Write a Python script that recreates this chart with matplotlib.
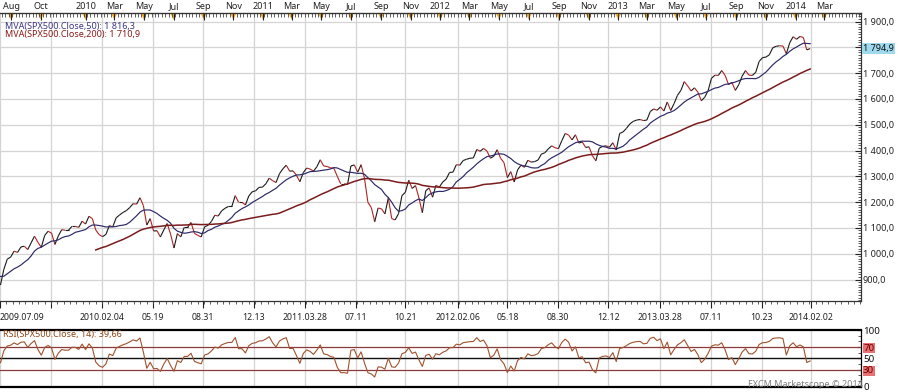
import numpy as np
import pandas as pd
import matplotlib
matplotlib.use('Agg')
import matplotlib.pyplot as plt
import matplotlib.dates as mdates
from matplotlib.collections import LineCollection
from matplotlib.transforms import blended_transform_factory
from matplotlib.ticker import MultipleLocator, FixedLocator

plt.rcParams['font.family'] = ['Noto Sans', 'DejaVu Sans']

# weekly closes, first friday 2009-04-24 (view starts 2009-07-09)
closes = [
    866, 877, 929, 882, 887, 919, 940, 946, 921, 918, 896,
    879, 940, 979, 987, 1010, 1005, 1026, 1029, 1016, 1042, 1068, 1044,
    1025, 1071, 1087, 1080, 1036, 1069, 1093, 1091, 1091, 1106, 1106, 1102, 1126,
    # 2010
    1115, 1145, 1136, 1092, 1074, 1066, 1075, 1109, 1104, 1139, 1150, 1160, 1167,
    1179, 1194, 1192, 1217, 1187, 1111, 1136, 1088, 1089, 1065, 1092, 1117, 1076,
    1022, 1078, 1065, 1102, 1102, 1121, 1079, 1071, 1065, 1104, 1110, 1125, 1149,
    1146, 1166, 1176, 1183, 1183, 1225, 1199, 1199, 1189, 1224, 1240, 1244, 1257, 1258,
    # 2011
    1271, 1293, 1283, 1276, 1310, 1329, 1343, 1320, 1321, 1304, 1279, 1314,
    1332, 1328, 1320, 1337, 1364, 1340, 1338, 1333, 1331, 1300, 1271, 1271, 1268,
    1340, 1344, 1316, 1345, 1292, 1199, 1179, 1124, 1177, 1174, 1154, 1216, 1136, 1131,
    1155, 1225, 1238, 1285, 1253, 1264, 1216, 1159, 1244, 1255, 1219, 1265, 1258,
    # 2012
    1278, 1289, 1315, 1316, 1345, 1343, 1361, 1366, 1370, 1371, 1404, 1397, 1408,
    1398, 1370, 1378, 1403, 1370, 1353, 1295, 1318, 1278, 1325, 1343, 1335, 1362,
    1355, 1357, 1363, 1386, 1391, 1406, 1418, 1411, 1407, 1438, 1466, 1460, 1441,
    1461, 1429, 1433, 1412, 1414, 1380, 1360, 1409, 1416, 1418, 1413, 1430, 1402,
    # 2013
    1466, 1472, 1486, 1503, 1513, 1518, 1520, 1516, 1518, 1551, 1561, 1556, 1569,
    1553, 1588, 1555, 1582, 1614, 1633, 1667, 1650, 1631, 1643, 1626, 1593, 1606,
    1632, 1680, 1692, 1691, 1710, 1691, 1656, 1664, 1633, 1655, 1688, 1710, 1692,
    1691, 1703, 1745, 1760, 1762, 1771, 1798, 1804, 1806, 1805, 1775, 1818, 1841,
    # 2014
    1831, 1842, 1838, 1790, 1794.9,
]
week_dates = pd.date_range('2009-04-24', periods=len(closes), freq='W-FRI')

ma50_text = 'MVA(SPX500.Close,50): 1 816,3'
ma200_text = 'MVA(SPX500.Close,200): 1 710,9'
rsi_text = 'RSI(SPX500.Close, 14): 39,66'
last_text = '1 794,9'

bottom_ticks = ['2009-07-09', '2009-10-22', '2010-02-04', '2010-05-19', '2010-08-31',
                '2010-12-13', '2011-03-28', '2011-07-11', '2011-10-21', '2012-02-06',
                '2012-05-18', '2012-08-30', '2012-12-12', '2013-03-28', '2013-07-11',
                '2013-10-23', '2014-02-02']
bottom_labels = ['2009.07.09', '', '2010.02.04', '05.19', '08.31', '12.13', '2011.03.28',
                 '07.11', '10.21', '2012.02.06', '05.18', '08.30', '12.12', '2013.03.28',
                 '07.11', '10.23', '2014.02.02']

top_ticks = ['2009-08-01', '2009-10-01',
             '2010-01-01', '2010-03-01', '2010-05-01', '2010-07-01', '2010-09-01', '2010-11-01',
             '2011-01-01', '2011-03-01', '2011-05-01', '2011-07-01', '2011-09-01', '2011-11-01',
             '2012-01-01', '2012-03-01', '2012-05-01', '2012-07-01', '2012-09-01', '2012-11-01',
             '2013-01-01', '2013-03-01', '2013-05-01', '2013-07-01', '2013-09-01', '2013-11-01',
             '2014-01-01', '2014-03-01']
top_labels = ['Aug', 'Oct',
              '2010', 'Mar', 'May', 'Jul', 'Sep', 'Nov',
              '2011', 'Mar', 'May', 'Jul', 'Sep', 'Nov',
              '2012', 'Mar', 'May', 'Jul', 'Sep', 'Nov',
              '2013', 'Mar', 'May', 'Jul', 'Sep', 'Nov',
              '2014', 'Mar']

rsi_levels = [0, 30, 50, 70, 100]


def wilder_rsi(vals, n):
    vals = np.asarray(vals, dtype=float)
    d = np.diff(vals)
    up = np.clip(d, 0, None)
    dn = np.clip(-d, 0, None)
    out = np.full(len(vals), np.nan)
    au = up[:n].mean()
    ad = dn[:n].mean()
    for i in range(n, len(d)):
        au = (au * (n - 1) + up[i]) / n
        ad = (ad * (n - 1) + dn[i]) / n
        out[i + 1] = 100 - 100 / (1 + au / ad) if ad > 0 else 100
    return out


s = pd.Series(closes, dtype=float)
ma50 = s.rolling(10).mean()
ma200 = s.rolling(40).mean()
rsi = wilder_rsi(closes, 6)
xd = mdates.date2num(week_dates)

W, H = 900, 392
fig = plt.figure(figsize=(9, 3.92), dpi=100)

px_day = 0.486
x0 = mdates.datestr2num('2009-07-09')
x1 = x0 + 861 / px_day


def price_at(ypx):
    return 1800 - (ypx - 47.3) / 0.258


ax = fig.add_axes([0, 1 - 301 / H, 861 / W, (301 - 13) / H])
ax.set_xlim(x0, x1)
ax.set_ylim(price_at(301), price_at(13))

grid_c = '#d4d4d4'
pts = np.column_stack([xd, closes])
segs = np.stack([pts[:-1], pts[1:]], axis=1)
cols = ['#1a1a1a' if b >= a else '#b22222' for a, b in zip(closes[:-1], closes[1:])]
ax.add_collection(LineCollection(segs, colors=cols, linewidths=0.8, zorder=3))
ax.plot(xd, ma50, color='#2b2868', lw=0.85, zorder=4)
ax.plot(xd, ma200, color='#7b1c1c', lw=1.1, zorder=4)

# right price axis
ax.yaxis.tick_right()
ax.yaxis.set_major_locator(MultipleLocator(100))
ax.yaxis.set_minor_locator(MultipleLocator(10))
ax.yaxis.set_major_formatter(lambda v, p: f'{v:,.1f}'.replace(',', ' ').replace('.', ','))
ax.tick_params(axis='y', which='major', direction='in', length=4, pad=1.2,
               labelsize=6.5, colors='#222222')
ax.tick_params(axis='y', which='minor', direction='in', length=2, color='#444444')

# bottom date axis
bt = mdates.datestr2num(bottom_ticks)
ax.xaxis.set_major_locator(FixedLocator(bt))
ax.set_xticklabels(bottom_labels)
ax.xaxis.set_minor_locator(FixedLocator(np.arange(bt[0], x1, 104.9 / 8)))
ax.tick_params(axis='x', which='major', direction='out', length=5, pad=4,
               labelsize=6.3, colors='#222222')
ax.tick_params(axis='x', which='minor', direction='out', length=2.5, color='#444444')
ax.get_xticklabels()[0].set_horizontalalignment('left')

ax.grid(True, which='major', color=grid_c, lw=0.9)
ax.set_axisbelow(True)
ax.spines['left'].set_visible(False)
for k in ('top', 'bottom', 'right'):
    ax.spines[k].set_color('#333333')
    ax.spines[k].set_linewidth(0.9)

# top month axis
axt = ax.twiny()
axt.set_xlim(x0, x1)
tt = mdates.datestr2num(top_ticks)
axt.xaxis.set_major_locator(FixedLocator(tt))
axt.set_xticklabels(top_labels)
axt.xaxis.set_minor_locator(FixedLocator(np.arange(mdates.datestr2num('2009-07-13'), x1, 7)))
axt.tick_params(axis='x', which='major', direction='in', length=5, pad=1.5,
                labelsize=6.5, colors='#222222')
axt.tick_params(axis='x', which='minor', direction='in', length=3, color='#444444')
for k in ('left', 'right', 'bottom'):
    axt.spines[k].set_visible(False)
axt.spines['top'].set_color('#333333')
tr = blended_transform_factory(ax.transData, ax.transAxes)
ax.scatter(tt, np.full(len(tt), 1 - 3.2 / 288), marker='v', s=22, color='#f5a623',
           edgecolors='none', transform=tr, zorder=6, clip_on=False)

# last price tag
trp = blended_transform_factory(ax.transAxes, ax.transData)
ax.text(1.0 + 2 / 861, closes[-1], last_text, transform=trp, ha='left', va='center',
        fontsize=6.5, color='#111111',
        bbox=dict(facecolor='#9fd9ee', edgecolor='none', pad=1.0))

fig.text(5 / W, 1 - 26 / H, ma50_text, fontsize=6.5, color='#3d3585', va='center')
fig.text(5 / W, 1 - 34.5 / H, ma200_text, fontsize=6.5, color='#8b1a1a', va='center')

# RSI panel
ar = fig.add_axes([0, 1 - 386.7 / H, 861 / W, (386.7 - 330.1) / H])
ar.set_xlim(x0, x1)
ar.set_ylim(0, 100)
ar.plot(xd, rsi, color='#a0522d', lw=0.8, zorder=3)
ar.axhline(70, color='#8b3a3a', lw=0.9, zorder=2)
ar.axhline(30, color='#8b3a3a', lw=0.9, zorder=2)
ar.axhline(50, color='#111111', lw=1.0, zorder=2)
ar.xaxis.set_major_locator(FixedLocator(bt))
ar.grid(True, axis='x', color=grid_c, lw=0.9)
ar.set_axisbelow(True)
ar.tick_params(axis='x', length=0, labelbottom=False)
ar.yaxis.tick_right()
ar.set_yticks(rsi_levels, [str(v) for v in rsi_levels])
ar.yaxis.set_minor_locator(MultipleLocator(10))
ar.tick_params(axis='y', which='major', direction='in', length=3, pad=1.5,
               labelsize=7, colors='#111111')
ar.tick_params(axis='y', which='minor', direction='in', length=2, color='#444444')
for lab in ar.get_yticklabels():
    lab.set_fontweight('bold')
    if lab.get_text() in ('70', '30'):
        lab.set_color('#6a0000')
        lab.set_bbox(dict(facecolor='#e87272', edgecolor='none', pad=0.3))
ar.spines['left'].set_visible(False)
ar.spines['top'].set_linewidth(1.6)
ar.spines['bottom'].set_linewidth(1.6)
ar.spines['right'].set_linewidth(0.9)

fig.text(3 / W, 1 - 334.5 / H, rsi_text, fontsize=6.5, color='#8b4513', va='center')
fig.text(748 / W, 1 - 384.5 / H, 'FXCM Marketscope \u00a9 2014', fontsize=6.5,
         color='#808080', va='center')

fig.savefig('out.png', dpi=100)
